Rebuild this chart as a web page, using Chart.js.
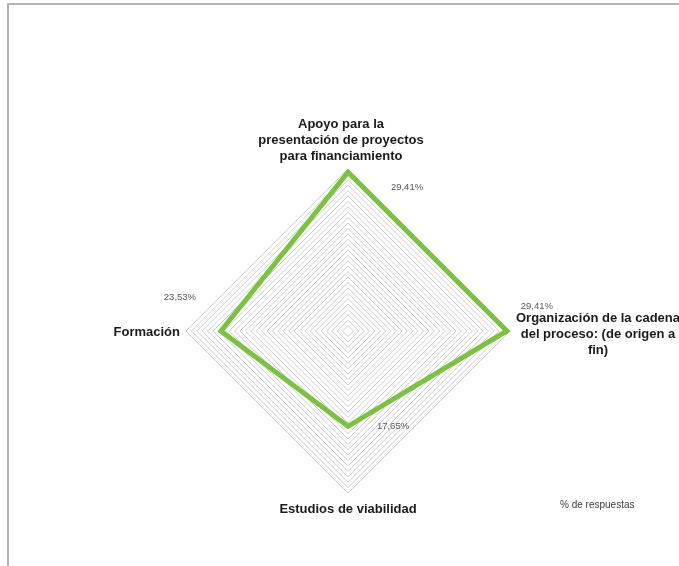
<!DOCTYPE html>
<html>
<head>
<meta charset="utf-8">
<script src="https://cdn.jsdelivr.net/npm/chart.js@4.4.1/dist/chart.umd.min.js"></script>
<style>
  html, body { margin: 0; padding: 0; background: #fff; overflow: hidden; }
  #wrap { position: absolute; left: 0; top: 0; width: 679px; height: 566px; overflow: hidden; }
  #frame { position: absolute; left: 7px; top: 3px; width: 720px; height: 620px;
           border-top: 2px solid #b4b4b4; border-left: 2px solid #b4b4b4; }
  #c { position: absolute; left: 0; top: 0; }
  #legend { position: absolute; left: 560px; top: 499px; color: #404040;
            font: 10px "Liberation Sans", Arial, sans-serif; white-space: nowrap; }
</style>
</head>
<body>
<div id="wrap">
  <div id="frame"></div>
  <canvas id="c" width="679" height="566"></canvas>
  <div id="legend">% de respuestas</div>
</div>
<script>
// Categories (one per radar axis, clockwise from the top), each split into display lines
const categories = [
  ['Apoyo para la', 'presentación de proyectos', 'para financiamiento'],
  ['Organización de la cadena', 'del proceso: (de origen a', 'fin)'],
  ['Estudios de viabilidad'],
  ['Formación']
];
// Share of responses per category (%)
const respuestas = [29.41, 29.41, 17.65, 23.53];
const seriesName = '% de respuestas';
// Radial axis range and ring step
const axisMin = 0;
const axisMax = 30;
const axisStep = 1;

const fmtPct = v => v.toFixed(2).replace('.', ',') + '%';

// Offsets of the value labels from their vertices (px)
const valueLabelOffsets = [[59, 15], [30, -25], [45, 0], [-41, -34]];

const axisTextPlugin = {
  id: 'axisText',
  afterDatasetsDraw(chart) {
    const scale = chart.scales.r;
    const ctx = chart.ctx;
    const ds = chart.data.datasets[0];
    ctx.save();

    // category labels around the outer ring
    ctx.font = 'bold 13px "Liberation Sans", Arial, sans-serif';
    ctx.fillStyle = '#1a1a1a';
    const lh = 16;
    const R = scale.drawingArea;
    chart.data.labels.forEach((lines, i) => {
      const n = lines.length;
      const widths = lines.map(l => ctx.measureText(l).width);
      const boxW = Math.max(...widths);
      ctx.textAlign = 'center';
      ctx.textBaseline = 'middle';
      let p, cx, topY;
      if (i === 0) {        // top
        p = scale.getPointPosition(i, R + 5);
        cx = p.x - 7;
        topY = p.y - n * lh;
      } else if (i === 1) { // right
        p = scale.getPointPosition(i, R + 6);
        cx = p.x + boxW / 2;
        topY = p.y + 3 - n * lh / 2;
      } else if (i === 2) { // bottom
        p = scale.getPointPosition(i, R + 8);
        cx = p.x;
        topY = p.y;
      } else {              // left
        p = scale.getPointPosition(i, R + 6);
        cx = p.x - boxW / 2;
        topY = p.y + 1 - n * lh / 2;
      }
      lines.forEach((l, k) => ctx.fillText(l, cx, topY + k * lh + lh / 2));
    });

    // value labels next to each vertex
    ctx.font = '9.5px "Liberation Sans", Arial, sans-serif';
    ctx.fillStyle = '#595959';
    ctx.textAlign = 'center';
    ctx.textBaseline = 'middle';
    ds.data.forEach((v, i) => {
      const p = scale.getPointPositionForValue(i, v);
      const [dx, dy] = valueLabelOffsets[i];
      ctx.fillText(fmtPct(v), p.x + dx, p.y + dy);
    });
    ctx.restore();
  }
};

new Chart(document.getElementById('c'), {
  type: 'radar',
  data: {
    labels: categories,
    datasets: [{
      label: seriesName,
      data: respuestas,
      borderColor: '#7cc242',
      borderWidth: 5,
      borderJoinStyle: 'miter',
      fill: false,
      pointRadius: 0,
      pointHoverRadius: 0,
      tension: 0
    }]
  },
  options: {
    responsive: false,
    animation: false,
    layout: { padding: { left: 186, right: 169, top: 169, bottom: 73 } },
    plugins: {
      legend: { display: false },
      tooltip: { enabled: false }
    },
    scales: {
      r: {
        min: axisMin,
        max: axisMax,
        ticks: { display: false, stepSize: axisStep },
        grid: { color: '#cdcdcd', lineWidth: 1 },
        angleLines: { display: false },
        pointLabels: { display: false }
      }
    }
  },
  plugins: [axisTextPlugin]
});
</script>
</body>
</html>
